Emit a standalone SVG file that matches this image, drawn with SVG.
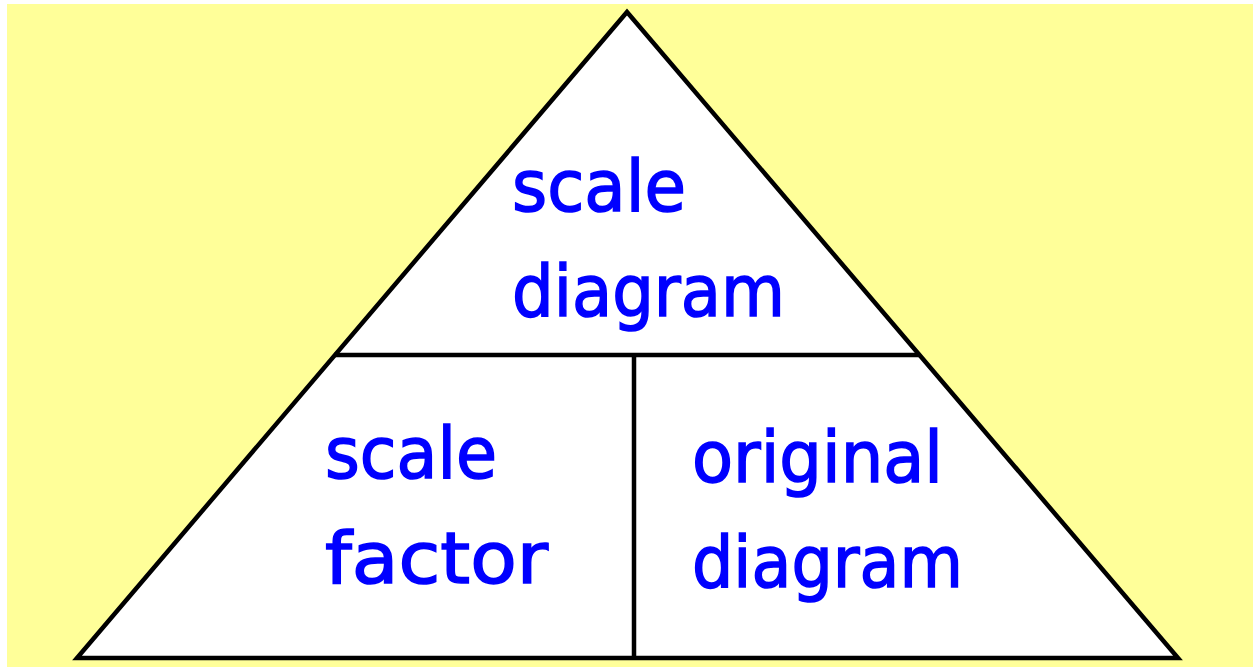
<svg xmlns="http://www.w3.org/2000/svg" width="1253" height="668" viewBox="0 0 1253 668">
  <style>
    .bg { fill: #FFFF99; }
    .edge { stroke: #000; stroke-width: 4.5; fill: none; stroke-linecap: butt; }
    .tri { fill: #FFFFFF; stroke: #000; stroke-width: 4.5; stroke-linejoin: miter; }
    .lbl { font-family: "DejaVu Sans", "Liberation Sans", sans-serif; font-size: 72px; fill: #0000FF; stroke: #0000FF; stroke-width: 1.6; }
  </style>
  <rect x="0" y="0" width="1253" height="668" fill="#FFFFFF"/>
  <rect class="bg" x="7" y="4" width="1246" height="663"/>
  <g id="triangle">
    <polygon class="tri" points="627,12 77,658 1178,658"/>
  </g>
  <g id="connectors">
    <line class="edge" x1="334" y1="355" x2="920" y2="355"/>
    <line class="edge" x1="634" y1="355" x2="634" y2="658"/>
  </g>
  <g id="node-scale-diagram">
    <text class="lbl" x="512" y="211" textLength="174" lengthAdjust="spacingAndGlyphs">scale</text>
    <text class="lbl" x="512" y="316" textLength="273" lengthAdjust="spacingAndGlyphs">diagram</text>
  </g>
  <g id="node-scale-factor">
    <text class="lbl" x="325" y="478" textLength="172" lengthAdjust="spacingAndGlyphs">scale</text>
    <text class="lbl" x="325" y="583" textLength="223" lengthAdjust="spacingAndGlyphs">factor</text>
  </g>
  <g id="node-original-diagram">
    <text class="lbl" x="692" y="482" textLength="251" lengthAdjust="spacingAndGlyphs">original</text>
    <text class="lbl" x="692" y="587" textLength="271" lengthAdjust="spacingAndGlyphs">diagram</text>
  </g>
</svg>
